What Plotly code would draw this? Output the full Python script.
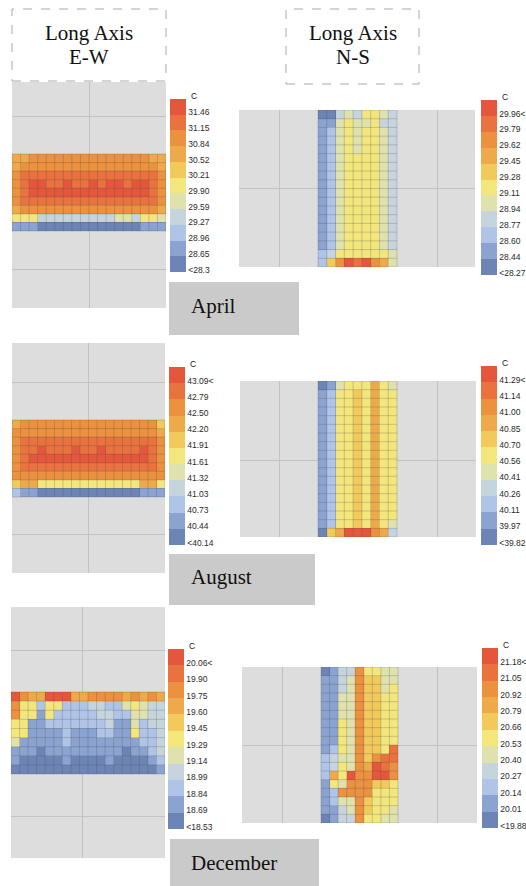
import plotly.graph_objects as go

W, H = 526, 886

# ---------------- data: binned temperature classes (0 = coolest bin, A = 10 = hottest bin) -------------
APR_EW = [
    "778888888888888877",
    "788888888888888887",
    "899999999999999998",
    "89AA99A99A9AA9AA98",
    "89AAAAAAAAAAAAAA98",
    "899999999999999998",
    "788888888888888887",
    "555333333333443554",
    "111000000000000111",
]
AUG_EW = [
    "788888888888888886",
    "888888888888888887",
    "899999999999999998",
    "899A999A99A9999A98",
    "89AAAAAAAAAAAAAA98",
    "899999999999999998",
    "888888888888888888",
    "677555555555555775",
    "211000000000000111",
]
DEC_EW = [
    "A877AAA77888878787",
    "855255222332245433",
    "855152222233224433",
    "551122222223114233",
    "551111211122115223",
    "411111211111111223",
    "111011111111101123",
    "100000100001000012",
    "000000000000000001",
]
APR_NS = [
    "003435543",
    "114544533",
    "124545543",
    "124545543",
    "124545543",
    "124555543",
    "124555543",
    "124555543",
    "124555543",
    "124555543",
    "124555543",
    "124555543",
    "124555543",
    "124555543",
    "124555543",
    "124555543",
    "235555554",
    "268A9A874",
]
AUG_NS = [
    "014555754",
    "125565755",
    "125565755",
    "125565755",
    "125565755",
    "125565755",
    "125565755",
    "125565755",
    "125565755",
    "125565755",
    "125565755",
    "125565755",
    "125565755",
    "125565755",
    "125565755",
    "125565755",
    "125565754",
    "067AAA873",
]
DEC_NS = [
    "013385544",
    "113486644",
    "113486645",
    "114486655",
    "114486655",
    "114486655",
    "115486655",
    "115486655",
    "115486655",
    "125486659",
    "234486899",
    "235487A98",
    "275A88AA8",
    "154888665",
    "128888555",
    "124486555",
    "113486554",
    "013385544",
]

# colour-bar tick labels, top (hottest bin) to bottom (coolest bin)
APR_EW_TICKS = ["31.46", "31.15", "30.84", "30.52", "30.21", "29.90", "29.59", "29.27", "28.96", "28.65", "<28.3"]
APR_NS_TICKS = ["29.96<", "29.79", "29.62", "29.45", "29.28", "29.11", "28.94", "28.77", "28.60", "28.44", "<28.27"]
AUG_EW_TICKS = ["43.09<", "42.79", "42.50", "42.20", "41.91", "41.61", "41.32", "41.03", "40.73", "40.44", "<40.14"]
AUG_NS_TICKS = ["41.29<", "41.14", "41.00", "40.85", "40.70", "40.56", "40.41", "40.26", "40.11", "39.97", "<39.82"]
DEC_EW_TICKS = ["20.06<", "19.90", "19.75", "19.60", "19.45", "19.29", "19.14", "18.99", "18.84", "18.69", "<18.53"]
DEC_NS_TICKS = ["21.18<", "21.05", "20.92", "20.79", "20.66", "20.53", "20.40", "20.27", "20.14", "20.01", "<19.88"]

HEADERS = [("Long Axis", "E-W"), ("Long Axis", "N-S")]
MONTHS = ["April", "August", "December"]

# ---------------- styling / layout -------------
COLORS = ["#6d85b6", "#8ba3d0", "#afc4e7", "#c6d5dd", "#dfe2ad", "#f2e67c",
          "#f2ca5c", "#eea94a", "#eb9140", "#e9723e", "#e5573d"]
NB = len(COLORS)
cscale = []
for i, c in enumerate(COLORS):
    cscale.append([i / NB, c])
    cscale.append([(i + 1) / NB, c])

PANELS = [
    dict(grid=APR_EW, ticks=APR_EW_TICKS, panel=(12, 82, 166, 308), heat=(12, 154, 166, 231),
         vg=[89], hg=[116, 269], cb=(170, 99, 272)),
    dict(grid=APR_NS, ticks=APR_NS_TICKS, panel=(239, 110, 475, 267), heat=(318, 110, 397, 267),
         vg=[279, 437], hg=[188], cb=(481, 100, 275)),
    dict(grid=AUG_EW, ticks=AUG_EW_TICKS, panel=(12, 343, 165, 573), heat=(12, 420, 165, 497),
         vg=[88], hg=[382, 534], cb=(169, 367, 545)),
    dict(grid=AUG_NS, ticks=AUG_NS_TICKS, panel=(240, 381, 476, 537), heat=(318, 381, 397, 537),
         vg=[279, 437], hg=[460], cb=(481, 366, 545)),
    dict(grid=DEC_EW, ticks=DEC_EW_TICKS, panel=(11, 607, 165, 858), heat=(11, 692, 165, 774),
         vg=[82], hg=[650, 816], cb=(168, 649, 829)),
    dict(grid=DEC_NS, ticks=DEC_NS_TICKS, panel=(242, 667, 477, 823), heat=(321, 667, 398, 823),
         vg=[282, 437], hg=[745], cb=(482, 648, 828)),
]

fig = go.Figure()
layout_axes = {}
annotations = []
shapes = []

for k, p in enumerate(PANELS):
    grid = p["grid"]
    nrows, ncols = len(grid), len(grid[0])
    z = [[int(ch, 16) for ch in row] for row in grid]
    L, T, R, B = p["panel"]
    hl, ht, hr, hb = p["heat"]
    cw = (hr - hl) / ncols
    ch = (hb - ht) / nrows
    fx = lambda px: -0.5 + (px - hl) / cw
    fy = lambda py: -0.5 + (py - ht) / ch
    sfx = "" if k == 0 else str(k + 1)
    xa, ya = "x" + sfx, "y" + sfx
    cbx, cbt, cbb = p["cb"]
    fig.add_trace(go.Heatmap(
        z=z, x=list(range(ncols)), y=list(range(nrows)), xaxis=xa, yaxis=ya,
        colorscale=cscale, zmin=-0.5, zmax=NB - 0.5, hoverinfo="skip",
        colorbar=dict(
            x=cbx / W, xanchor="left", y=1 - cbt / H, yanchor="top",
            len=cbb - cbt, lenmode="pixels", thickness=16, thicknessmode="pixels",
            xpad=0, ypad=0, outlinewidth=0, ticks="",
            tickvals=[NB - 1 - i - 0.35 for i in range(NB)], ticktext=p["ticks"],
            tickfont=dict(size=8.5, color="#2a2a2a", family="Liberation Sans"),
        ),
    ))
    # thin cell borders
    lx, ly = [], []
    for i in range(ncols + 1):
        lx += [i - 0.5, i - 0.5, None]
        ly += [-0.5, nrows - 0.5, None]
    for j in range(nrows + 1):
        lx += [-0.5, ncols - 0.5, None]
        ly += [j - 0.5, j - 0.5, None]
    fig.add_trace(go.Scatter(x=lx, y=ly, xaxis=xa, yaxis=ya, mode="lines",
                             line=dict(color="rgba(70,70,70,0.3)", width=0.8),
                             hoverinfo="skip", showlegend=False))
    common = dict(showticklabels=False, ticks="", zeroline=False, showline=False,
                  showgrid=True, gridcolor="#c2c2c2", gridwidth=1, fixedrange=True)
    layout_axes["xaxis" + sfx] = dict(domain=[L / W, R / W], range=[fx(L), fx(R)],
                                      tickvals=[fx(v) for v in p["vg"]], anchor=ya, **common)
    layout_axes["yaxis" + sfx] = dict(domain=[1 - B / H, 1 - T / H], range=[fy(B), fy(T)],
                                      tickvals=[fy(v) for v in p["hg"]], anchor=xa, **common)
    annotations.append(dict(x=(cbx + 19) / W, y=1 - (cbt - 3) / H, xref="paper", yref="paper",
                            text="C", showarrow=False, xanchor="left", yanchor="middle",
                            font=dict(size=8.5, color="#1a1a1a", family="Liberation Sans")))

# header dashed boxes
for (x0, y0, x1, y1), (l1, l2) in zip([(12, 9, 166, 81), (286, 9, 419, 84)], HEADERS):
    shapes.append(dict(type="rect", xref="paper", yref="paper", x0=x0 / W, x1=x1 / W,
                       y0=1 - y1 / H, y1=1 - y0 / H, line=dict(color="#a9a9a9", width=1, dash="dash")))
    cx = (x0 + x1) / 2 / W
    for txt, cy in ((l1, 33), (l2, 57)):
        annotations.append(dict(x=cx, y=1 - cy / H, xref="paper", yref="paper", text=txt,
                                showarrow=False, xanchor="center", yanchor="middle",
                                font=dict(size=21, color="#111111", family="Liberation Serif")))

# month label boxes
for (x0, y0, x1, y1, ty), m in zip([(169, 282, 299, 335, 306), (169, 554, 315, 605, 577),
                                    (170, 839, 319, 892, 863)], MONTHS):
    shapes.append(dict(type="rect", xref="paper", yref="paper", x0=x0 / W, x1=x1 / W,
                       y0=1 - y1 / H, y1=1 - y0 / H, fillcolor="#cacaca", line=dict(width=0)))
    annotations.append(dict(x=189 / W, y=1 - ty / H, xref="paper", yref="paper", text=m,
                            showarrow=False, xanchor="left", yanchor="middle",
                            font=dict(size=21, color="#111111", family="Liberation Serif")))

fig.update_layout(
    width=W, height=H, autosize=False,
    margin=dict(l=0, r=0, t=0, b=0, pad=0, autoexpand=False),
    paper_bgcolor="white", plot_bgcolor="#dddddd",
    showlegend=False, annotations=annotations, shapes=shapes, **layout_axes,
)

fig.write_html("out.html")
